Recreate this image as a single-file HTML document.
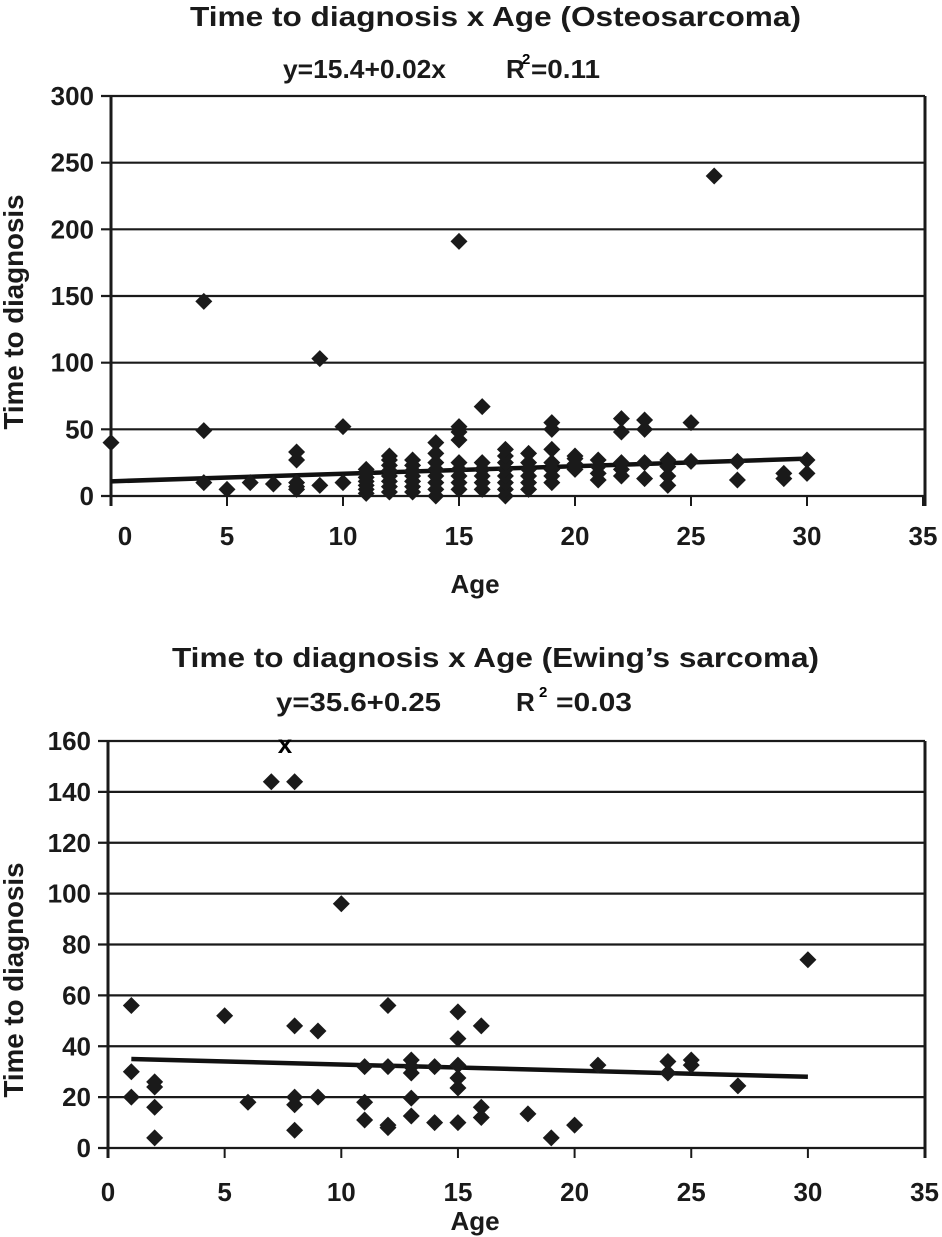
<!DOCTYPE html>
<html><head><meta charset="utf-8"><style>
body{margin:0;background:#fff;}
svg{display:block;font-family:"Liberation Sans",Arial,sans-serif;}
</style></head><body>
<svg id="c" width="942" height="1237"></svg>
<script>
// Osteosarcoma data
const osAges = [0,4,4,4,5,6,7,8,8,8,8,8,9,9,10,10,
11,11,11,11,11,11,11,12,12,12,12,12,12,12,12,13,13,13,13,13,13,13,
14,14,14,14,14,14,14,14,15,15,15,15,15,15,15,15,15,16,16,16,16,16,16,
17,17,17,17,17,17,17,17,18,18,18,18,18,18,19,19,19,19,19,19,19,
20,20,20,20,21,21,21,21,22,22,22,22,22,23,23,23,23,24,24,24,24,25,25,26,27,27,29,29,30,30];
const osTimes = [40,146,49,10,5,10,9,33,27,10,7,5,103,8,52,10,
2,5,8,11,14,17,20,3,7,11,15,19,23,27,30,3,7,11,15,19,23,27,
0,5,10,15,20,25,32,40,5,10,15,20,25,42,48,52,191,5,10,15,20,25,67,
0,5,10,15,20,25,30,35,5,10,15,20,25,32,10,15,20,25,35,50,55,
20,24,28,30,12,17,22,27,15,20,25,48,58,13,25,50,57,8,15,22,27,26,55,240,12,26,13,17,17,27];
const osTrendX = [0,30];
const osTrendY = [11,28];
const osYTicks = [0,50,100,150,200,250,300];
const osXTicks = [0,5,10,15,20,25,30,35];
// Ewing data
const ewAges = [1,1,1,2,2,2,2,5,6,7,8,8,8,8,8,9,9,10,11,11,11,12,12,12,12,13,13,13,13,13,14,14,15,15,15,15,15,15,16,16,16,18,19,20,21,24,24,25,25,27,30];
const ewTimes = [56,30,20,26,24,16,4,52,18,144,144,48,20,17,7,46,20,96,32,18,11,56,32,9,8,34.6,32,29.5,19.6,12.6,32,10,53.5,43,32.6,27.5,23.6,10,48,16,12,13.4,4,9,32.6,34,29.5,34.6,32.6,24.4,74];
const ewTrendX = [1,30];
const ewTrendY = [35,28];
const ewYTicks = [0,20,40,60,80,100,120,140,160];
const ewXTicks = [0,5,10,15,20,25,30,35];

const NS="http://www.w3.org/2000/svg";
const svgEl=document.getElementById('c');
function mk(tag,attrs,parent){const e=document.createElementNS(NS,tag);for(const k in attrs)e.setAttribute(k,attrs[k]);(parent||svgEl).appendChild(e);return e;}
function txt(s,attrs,parent){const e=mk('text',attrs,parent);e.textContent=s;return e;}

function chart(cfg){
  const g=mk('g',{});
  
  
  const xs=v=>cfg.x0+v*cfg.xu;
  const ys=v=>cfg.y0-(v/cfg.ymax)*(cfg.y0-cfg.ytop);
  cfg.yt.forEach(v=>{
    const l=mk('line',{x1:cfg.x0-10,x2:cfg.gridR,y1:ys(v),y2:ys(v),stroke:'#1a1a1a','stroke-width':2.2},g);
    
    
    const t=txt(String(v),{x:cfg.x0-17,y:ys(v)+9,'text-anchor':'end','font-size':26,'font-weight':'bold',fill:'#1a1a1a'},g);
    
    
  });
  mk('line',{x1:cfg.x0,x2:cfg.x0,y1:cfg.ytop,y2:cfg.y0+10,stroke:'#1a1a1a','stroke-width':3},g);
  mk('line',{x1:cfg.gridR,x2:cfg.gridR,y1:cfg.ytop,y2:cfg.y0+10,stroke:'#1a1a1a','stroke-width':3},g);
  cfg.xt.forEach(v=>{
    mk('line',{x1:xs(v),x2:xs(v),y1:cfg.y0,y2:cfg.y0+10,stroke:'#1a1a1a','stroke-width':2},g);
    const t=txt(String(v),{x:xs(v)+(v===0?cfg.zeroOff:0),y:cfg.xlabY,'text-anchor':'middle','font-size':26,'font-weight':'bold',fill:'#1a1a1a'},g);
    
    
  });
  const tl=mk('line',{x1:xs(cfg.tx[0]),y1:ys(cfg.ty[0]),x2:xs(cfg.tx[1]),y2:ys(cfg.ty[1]),stroke:'#111','stroke-width':4.5},g);
  
  
  cfg.ax.forEach((a,i)=>{
    const cx=xs(a),cy=ys(cfg.ay[i]),r=8.5;
    const p=mk('polygon',{points:`${cx},${cy-r} ${cx+r},${cy} ${cx},${cy+r} ${cx-r},${cy}`,fill:'#1a1a1a'},g);
    
    
  });
  const t1=txt(cfg.title,{x:cfg.titleX,y:cfg.titleY,'font-size':28,'font-weight':'bold',textLength:cfg.titleW,lengthAdjust:'spacingAndGlyphs',fill:'#1a1a1a'},g);
  
  
  const xa=txt('Age',{x:cfg.ageX,y:cfg.ageY,'text-anchor':'middle','font-size':26,'font-weight':'bold',fill:'#1a1a1a'},g);
  
  
  const ya=txt('Time to diagnosis',{x:0,y:0,'text-anchor':'middle','font-size':28,'font-weight':'bold',textLength:cfg.ytL,lengthAdjust:'spacingAndGlyphs',fill:'#1a1a1a',transform:`translate(23,${cfg.ytY}) rotate(-90)`},g);
  
  
  return {g,xs,ys};
}

const topChart=chart({name:'osteosarcoma-chart',x0:111,xu:23.2,y0:496,ytop:96,ymax:300,gridR:925,
  yt:osYTicks,xt:osXTicks,xlabY:545,zeroOff:14,tx:osTrendX,ty:osTrendY,ax:osAges,ay:osTimes,
  title:'Time to diagnosis x Age (Osteosarcoma)',titleX:190,titleY:26,titleW:611,ageX:475,ageY:593,ytY:312,ytL:235});
const e1=txt('y=15.4+0.02x',{x:283,y:78,'font-size':26,'font-weight':'bold',textLength:163,lengthAdjust:'spacingAndGlyphs',fill:'#1a1a1a'},topChart.g);


const e2=txt('R',{x:506,y:78,'font-size':26,'font-weight':'bold',fill:'#1a1a1a'},topChart.g);


txt('2',{x:522,y:64,'font-size':15,'font-weight':'bold'},topChart.g);
txt('=0.11',{x:531,y:78,'font-size':26,'font-weight':'bold',textLength:69,lengthAdjust:'spacingAndGlyphs',fill:'#1a1a1a'},topChart.g);

const botChart=chart({name:'ewing-chart',x0:108,xu:23.33,y0:1148,ytop:741,ymax:160,gridR:925,
  yt:ewYTicks,xt:ewXTicks,xlabY:1201,zeroOff:0,tx:ewTrendX,ty:ewTrendY,ax:ewAges,ay:ewTimes,
  title:"Time to diagnosis x Age (Ewing\u2019s sarcoma)",titleX:172,titleY:667,titleW:647,ageX:475,ageY:1230,ytY:980,ytL:235});
const e3=txt('y=35.6+0.25',{x:276,y:711,'font-size':26,'font-weight':'bold',textLength:165,lengthAdjust:'spacingAndGlyphs',fill:'#1a1a1a'},botChart.g);


const e4=txt('R',{x:516,y:711,'font-size':26,'font-weight':'bold',fill:'#1a1a1a'},botChart.g);


txt('2',{x:539,y:697,'font-size':15,'font-weight':'bold'},botChart.g);
txt('=0.03',{x:556,y:711,'font-size':26,'font-weight':'bold',textLength:76,lengthAdjust:'spacingAndGlyphs',fill:'#1a1a1a'},botChart.g);
const xm=txt('x',{x:285,y:753,'text-anchor':'middle','font-size':26,'font-weight':'bold'},botChart.g);


</script>
</body></html>
